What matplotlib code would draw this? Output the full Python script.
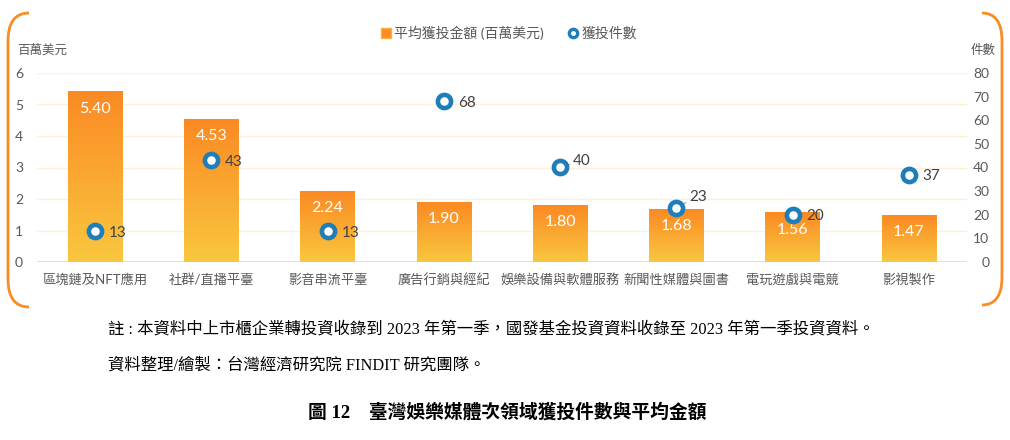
import numpy as np
import matplotlib
matplotlib.use("Agg")
import matplotlib.pyplot as plt
from matplotlib.path import Path
from matplotlib.patches import PathPatch
from matplotlib.lines import Line2D

# 資料
categories = ["區塊鏈及NFT應用", "社群/直播平臺", "影音串流平臺", "廣告行銷與經紀",
              "娛樂設備與軟體服務", "新聞性媒體與圖書", "電玩遊戲與電競", "影視製作"]
avg_amount = [5.40, 4.53, 2.24, 1.90, 1.80, 1.68, 1.56, 1.47]
deal_count = [13, 43, 13, 68, 40, 23, 20, 37]
left_ticks = [0, 1, 2, 3, 4, 5, 6]
right_ticks = [0, 10, 20, 30, 40, 50, 60, 70, 80]

note1 = "註 : 本資料中上市櫃企業轉投資收錄到 2023 年第一季，國發基金投資資料收錄至 2023 年第一季投資資料。"
note2 = "資料整理/繪製：台灣經濟研究院 FINDIT 研究團隊。"
fig_title = "圖 12　臺灣娛樂媒體次領域獲投件數與平均金額"

SANS = ["Lato", "Noto Sans CJK TC", "DejaVu Sans"]
SERIF = ["Liberation Serif", "Noto Sans CJK TC", "DejaVu Sans"]
plt.rcParams["font.family"] = SANS

GRAY = "#595959"
BLUE = "#1F7EB9"
ORANGE = "#FA8C22"

W, H = 1010, 440
fig = plt.figure(figsize=(W / 100, H / 100), dpi=100)
ax = fig.add_axes([37 / W, 1 - 262 / H, (967 - 37) / W, (262 - 73) / H])
ax2 = ax.twinx()

x = np.arange(len(categories))
bw = 0.47

# 漸層長條
grad = np.linspace(0, 1, 256).reshape(-1, 1)
cmap = matplotlib.colors.LinearSegmentedColormap.from_list("og", ["#F9C73F", "#FB8A24"])
for xi, v in zip(x, avg_amount):
    ax.imshow(grad, extent=(xi - bw / 2, xi + bw / 2, 0, v), origin="lower",
              cmap=cmap, aspect="auto", zorder=2, interpolation="bilinear")
    ax.annotate(f"{v:.2f}", (xi, v), xytext=(0, -12), textcoords="offset points",
                ha="center", va="center", color="white", fontsize=11.5, zorder=4)

ax.set_xlim(-0.5, len(categories) - 0.5)
ax.set_ylim(0, 6)
ax.set_yticks(left_ticks)
ax.set_xticks(x)
ax.set_xticklabels(categories, fontsize=9.5, color=GRAY)
ax.tick_params(axis="both", length=0, colors=GRAY)
ax.tick_params(axis="x", pad=8)
ax.tick_params(axis="y", labelsize=10, pad=10)
for y in left_ticks[1:]:
    ax.axhline(y, color="#FDF0D6", linewidth=1, zorder=0)
ax.axhline(0, color="#D9D9D9", linewidth=1.2, zorder=1)
for s in ax.spines.values():
    s.set_visible(False)
for s in ax2.spines.values():
    s.set_visible(False)

# 獲投件數
ax2.set_ylim(0, 80)
ax2.set_yticks(right_ticks)
ax2.tick_params(axis="y", length=0, colors=GRAY, labelsize=10, pad=16)
for lab in ax2.get_yticklabels():
    lab.set_horizontalalignment("right")
ax2.plot(x, deal_count, linestyle="none", marker="o", ms=9.5, mew=3.3,
         mec=BLUE, mfc="white", zorder=5)
ax.set_zorder(1)
ax2.set_zorder(2)

offsets = {4: (9, 5), 5: (9, 8)}
for i, (xi, c) in enumerate(zip(x, deal_count)):
    if i in offsets:
        ax2.annotate(str(c), (xi, c), xytext=offsets[i], textcoords="offset points",
                     ha="left", va="center", fontsize=11, color="#404040",
                     arrowprops=dict(arrowstyle="-", color="#A6A6A6", lw=0.8,
                                     shrinkA=0, shrinkB=5))
    else:
        ax2.annotate(str(c), (xi, c), xytext=(10, -1), textcoords="offset points",
                     ha="left", va="center", fontsize=11, color="#404040")

# 軸標題
fig.text(17 / W, 1 - 50 / H, "百萬美元", fontsize=9, color=GRAY, va="center", ha="left")
fig.text(996 / W, 1 - 50 / H, "件數", fontsize=9, color=GRAY, va="center", ha="right")

# 圖例
handles = [
    Line2D([], [], linestyle="none", marker="s", ms=7, mfc=ORANGE, mec="#FBB040"),
    Line2D([], [], linestyle="none", marker="o", ms=6, mew=2.4, mec=BLUE, mfc="white"),
]
fig.legend(handles, ["平均獲投金額 (百萬美元)", "獲投件數"], loc="center",
           bbox_to_anchor=(508 / W, 1 - 33 / H), ncol=2, frameon=False,
           fontsize=10, labelcolor=GRAY, handletextpad=0.1, columnspacing=1.6,
           handlelength=1.0)

# 左右括弧
def bracket(xs_outer, xs_inner, top, bot, r):
    verts = [(xs_inner, top), (xs_outer, top), (xs_outer, top + r),
             (xs_outer, bot - r), (xs_outer, bot), (xs_inner, bot)]
    codes = [Path.MOVETO, Path.CURVE3, Path.CURVE3, Path.LINETO, Path.CURVE3, Path.CURVE3]
    verts = [(vx / W, 1 - vy / H) for vx, vy in verts]
    fig.add_artist(PathPatch(Path(verts, codes), transform=fig.transFigure,
                             fill=False, edgecolor=ORANGE, linewidth=2.0))

bracket(8, 29, 13, 307, 28)
bracket(1002, 982, 13, 305, 28)

# 註解與標題
fig.text(108 / W, 1 - 330 / H, note1, family=SERIF, fontsize=11.8, color="black", va="center")
fig.text(108 / W, 1 - 366 / H, note2, family=SERIF, fontsize=11.8, color="black", va="center")
fig.text(507 / W, 1 - 412 / H, fig_title, family=SERIF, fontsize=13.5, fontweight="bold",
         color="black", va="center", ha="center")

fig.savefig("out.png", dpi=100)
